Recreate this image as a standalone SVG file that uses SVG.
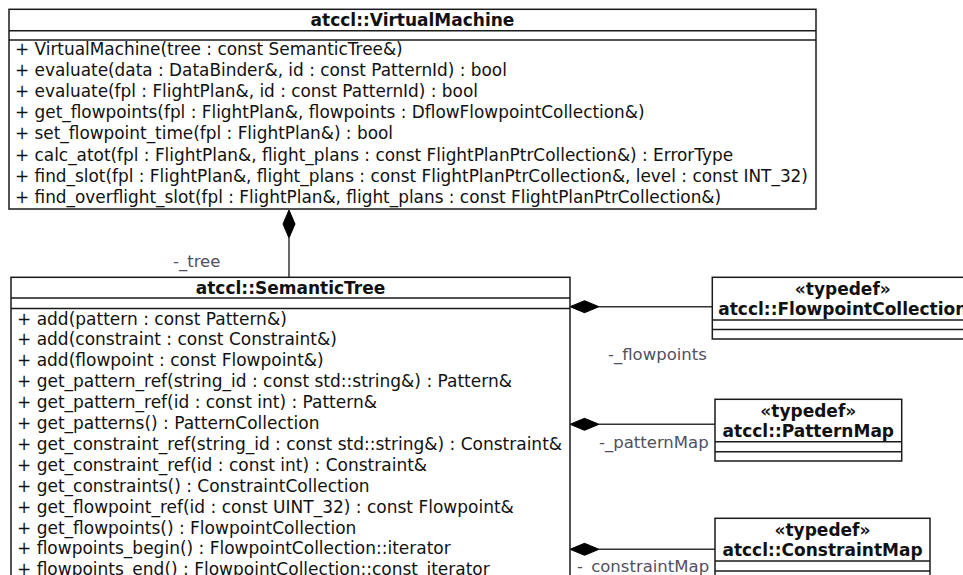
<svg xmlns="http://www.w3.org/2000/svg" width="963" height="575" viewBox="0 0 963 575">
<style>
.box{fill:#fff;stroke:#1a1a1a;stroke-width:1.5}
.sep{stroke:#1a1a1a;stroke-width:1.5}
.t{font-family:"DejaVu Sans",sans-serif;font-size:17px;fill:#111}
.tv{font-family:"DejaVu Sans",sans-serif;font-size:16.9px;fill:#111}
.b{font-family:"DejaVu Sans",sans-serif;font-size:17px;font-weight:bold;fill:#111;text-anchor:middle}
.lbl{font-family:"DejaVu Sans",sans-serif;font-size:16.5px;fill:#505060}
.ln{stroke:#333;stroke-width:1.5;fill:none}
.dia{fill:#000;stroke:#000;stroke-width:1}
</style>
<rect width="963" height="575" fill="#fff"/>
<g id="connectors">
  <line class="ln" x1="289" y1="238" x2="289" y2="277"/>
  <polygon class="dia" points="289,210 295,224 289,238 283,224"/>
  <line class="ln" x1="599" y1="306.7" x2="712" y2="306.7"/>
  <polygon class="dia" points="570,306.7 584.5,300.7 599,306.7 584.5,312.7"/>
  <line class="ln" x1="599" y1="424.3" x2="715" y2="424.3"/>
  <polygon class="dia" points="570,424.3 584.5,418.3 599,424.3 584.5,430.3"/>
  <line class="ln" x1="599" y1="549.3" x2="715" y2="549.3"/>
  <polygon class="dia" points="570,549.3 584.5,543.3 599,549.3 584.5,555.3"/>
  <text class="lbl" x="173" y="267">-_tree</text>
  <text class="lbl" x="608" y="360">-_flowpoints</text>
  <text class="lbl" x="599" y="448">-_patternMap</text>
  <text class="lbl" x="577" y="572">-_constraintMap</text>
</g>
<g id="VirtualMachine">
  <rect class="box" x="9" y="9.3" width="807" height="199.7"/>
  <line class="sep" x1="9" y1="30.7" x2="816" y2="30.7"/>
  <line class="sep" x1="9" y1="40" x2="816" y2="40"/>
  <text class="b" x="412.5" y="26">atccl::VirtualMachine</text>
  <text class="tv" x="15" y="54.5">+ VirtualMachine(tree : const SemanticTree&amp;)</text>
  <text class="tv" x="15" y="75.7">+ evaluate(data : DataBinder&amp;, id : const PatternId) : bool</text>
  <text class="tv" x="15" y="96.9">+ evaluate(fpl : FlightPlan&amp;, id : const PatternId) : bool</text>
  <text class="tv" x="15" y="118.1">+ get_flowpoints(fpl : FlightPlan&amp;, flowpoints : DflowFlowpointCollection&amp;)</text>
  <text class="tv" x="15" y="139.3">+ set_flowpoint_time(fpl : FlightPlan&amp;) : bool</text>
  <text class="tv" x="15" y="160.5">+ calc_atot(fpl : FlightPlan&amp;, flight_plans : const FlightPlanPtrCollection&amp;) : ErrorType</text>
  <text class="tv" x="15" y="181.7">+ find_slot(fpl : FlightPlan&amp;, flight_plans : const FlightPlanPtrCollection&amp;, level : const INT_32)</text>
  <text class="tv" x="15" y="202.9">+ find_overflight_slot(fpl : FlightPlan&amp;, flight_plans : const FlightPlanPtrCollection&amp;)</text>
</g>
<g id="SemanticTree">
  <rect class="box" x="11" y="277.3" width="559" height="320"/>
  <line class="sep" x1="11" y1="298" x2="570" y2="298"/>
  <line class="sep" x1="11" y1="308.5" x2="570" y2="308.5"/>
  <text class="b" x="290.5" y="293.5">atccl::SemanticTree</text>
  <text class="t" x="17" y="324.5">+ add(pattern : const Pattern&amp;)</text>
  <text class="t" x="17" y="345.4">+ add(constraint : const Constraint&amp;)</text>
  <text class="t" x="17" y="366.3">+ add(flowpoint : const Flowpoint&amp;)</text>
  <text class="t" x="17" y="387.2">+ get_pattern_ref(string_id : const std::string&amp;) : Pattern&amp;</text>
  <text class="t" x="17" y="408.1">+ get_pattern_ref(id : const int) : Pattern&amp;</text>
  <text class="t" x="17" y="429">+ get_patterns() : PatternCollection</text>
  <text class="t" x="17" y="449.9">+ get_constraint_ref(string_id : const std::string&amp;) : Constraint&amp;</text>
  <text class="t" x="17" y="470.8">+ get_constraint_ref(id : const int) : Constraint&amp;</text>
  <text class="t" x="17" y="491.7">+ get_constraints() : ConstraintCollection</text>
  <text class="t" x="17" y="512.6">+ get_flowpoint_ref(id : const UINT_32) : const Flowpoint&amp;</text>
  <text class="t" x="17" y="533.5">+ get_flowpoints() : FlowpointCollection</text>
  <text class="t" x="17" y="554.4">+ flowpoints_begin() : FlowpointCollection::iterator</text>
  <text class="t" x="17" y="575.3">+ flowpoints_end() : FlowpointCollection::const_iterator</text>
</g>
<g id="FlowpointCollection">
  <rect class="box" x="712.3" y="277.3" width="261" height="61.7"/>
  <line class="sep" x1="712.3" y1="320" x2="973.3" y2="320"/>
  <line class="sep" x1="712.3" y1="329.5" x2="973.3" y2="329.5"/>
  <text class="b" x="842.8" y="294.5">«typedef»</text>
  <text class="b" x="842.8" y="315">atccl::FlowpointCollection</text>
</g>
<g id="PatternMap">
  <rect class="box" x="715" y="399.3" width="186.7" height="61.7"/>
  <line class="sep" x1="715" y1="441.7" x2="901.7" y2="441.7"/>
  <line class="sep" x1="715" y1="451.7" x2="901.7" y2="451.7"/>
  <text class="b" x="808.3" y="416.5">«typedef»</text>
  <text class="b" x="808.3" y="437">atccl::PatternMap</text>
</g>
<g id="ConstraintMap">
  <rect class="box" x="715" y="518.3" width="215" height="62"/>
  <line class="sep" x1="715" y1="561" x2="930" y2="561"/>
  <line class="sep" x1="715" y1="571" x2="930" y2="571"/>
  <text class="b" x="822.5" y="535.5">«typedef»</text>
  <text class="b" x="822.5" y="556">atccl::ConstraintMap</text>
</g>
</svg>
